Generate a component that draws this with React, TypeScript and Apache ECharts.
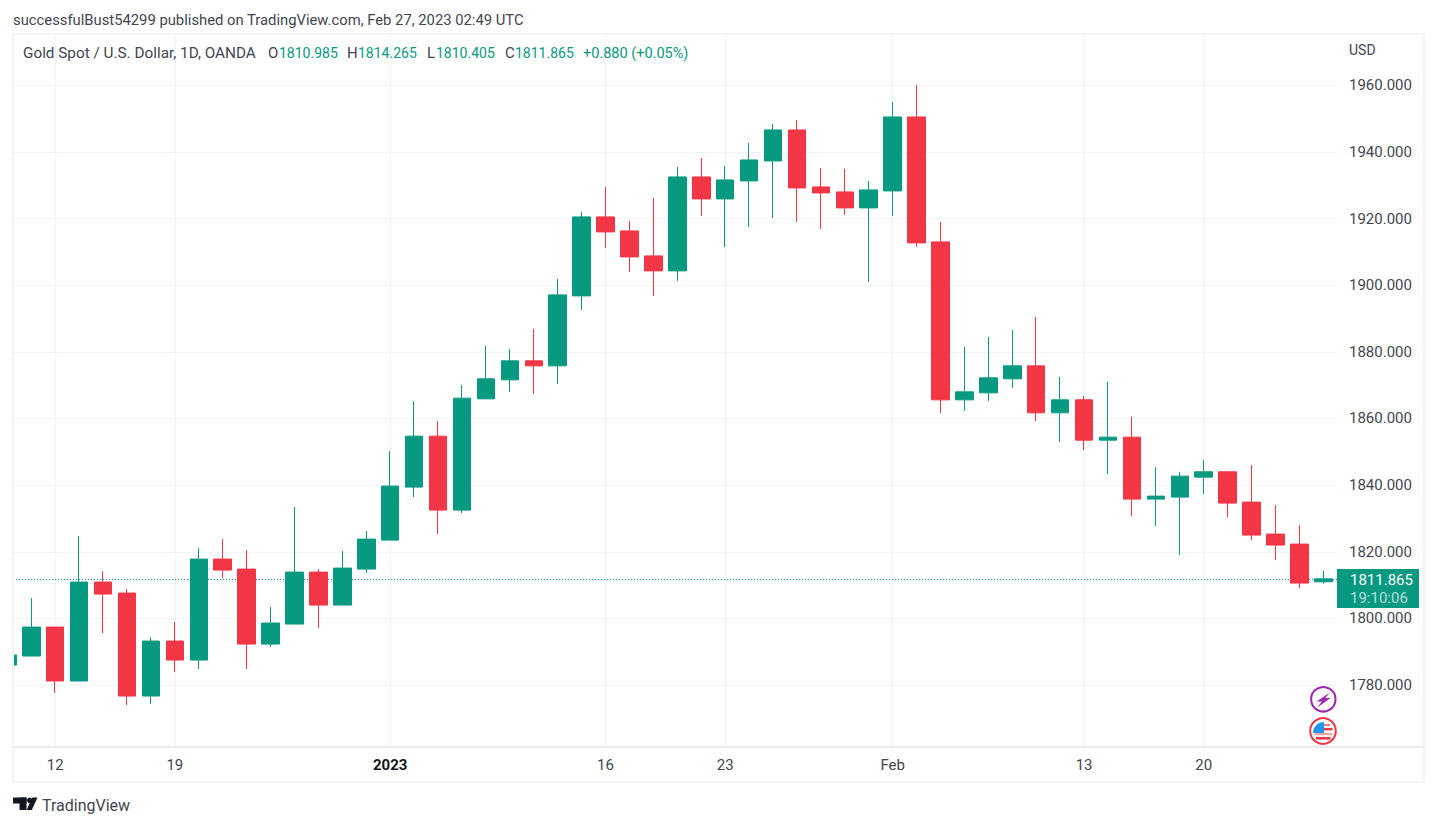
import React, { useEffect, useRef } from "react";
import * as echarts from "echarts";

const FONT = "Roboto, 'Open Sans', sans-serif";
const UP = "#089981";
const DOWN = "#F23645";

// [open, close, low, high] per daily session
const opens = [1786, 1788.7, 1797.4, 1781.2, 1810.9, 1807.6, 1776.7, 1793.2, 1787.5, 1817.8, 1814.8, 1792.3, 1798.3, 1813.9, 1804, 1814.8, 1823.5, 1839.4, 1854.7, 1832.5, 1865.9, 1871.6, 1877.3, 1875.8, 1896.8, 1920.5, 1916.3, 1908.8, 1904.3, 1932.5, 1925.9, 1931.3, 1937.3, 1946.6, 1929.5, 1928, 1923.2, 1928.3, 1950.5, 1913, 1865.6, 1867.7, 1871.9, 1875.8, 1861.7, 1865.6, 1853.5, 1854.4, 1835.8, 1836.4, 1842.4, 1844, 1834.9, 1825.3, 1822.3, 1810.985];
const closes = [1789, 1797.4, 1781.2, 1810.9, 1807.3, 1776.7, 1793.2, 1787.5, 1817.8, 1814.5, 1792.3, 1798.6, 1813.9, 1804, 1815.1, 1823.8, 1839.7, 1854.7, 1832.5, 1866.1, 1871.9, 1877.3, 1875.8, 1897.1, 1920.5, 1916, 1908.5, 1904.3, 1932.5, 1925.9, 1931.6, 1937.6, 1946.6, 1929.2, 1927.7, 1923.2, 1928.6, 1950.5, 1912.7, 1865.6, 1868, 1872.2, 1875.8, 1861.7, 1865.6, 1853.5, 1854.4, 1835.8, 1836.7, 1842.7, 1844, 1834.6, 1825, 1822, 1810.6, 1811.865];
const lows = [1786, 1788.7, 1777.6, 1781.2, 1795.6, 1774, 1774.3, 1783.9, 1784.8, 1812.1, 1784.8, 1791.4, 1798.3, 1797.1, 1804, 1813.6, 1823.5, 1836.4, 1825.3, 1831.6, 1865.9, 1868, 1867.4, 1870.4, 1892.6, 1911.2, 1904, 1896.8, 1901.3, 1920.8, 1911.5, 1917.5, 1920.2, 1919, 1916.9, 1921.1, 1901, 1920.8, 1911.5, 1861.6, 1862.3, 1865.3, 1869.2, 1859.2, 1853, 1850.5, 1843.3, 1830.7, 1827.7, 1819, 1837.3, 1830.4, 1823.5, 1817.5, 1809.1, 1810.405];
const highs = [1789, 1806.1, 1797.4, 1824.7, 1814.2, 1808.8, 1794.4, 1798.9, 1821.1, 1823.8, 1820.5, 1803.4, 1833.4, 1814.8, 1820.2, 1826.2, 1850.2, 1865.2, 1859.2, 1870.1, 1881.8, 1880.9, 1886.9, 1901.9, 1922, 1929.5, 1919.3, 1926.2, 1935.5, 1938.2, 1935.8, 1942.7, 1948.4, 1949.6, 1935.2, 1934.9, 1931.3, 1955, 1960.1, 1919, 1881.5, 1884.5, 1886.6, 1890.5, 1872.5, 1866.8, 1871, 1860.5, 1845.4, 1844, 1847.5, 1844, 1846, 1834, 1828, 1814.265];

const timeTickIndex = [2, 7, 16, 25, 30, 37, 45, 50];
const timeTickLabels = ["12", "19", "2023", "16", "23", "Feb", "13", "20"];
const priceTicks = [1780, 1800, 1820, 1840, 1860, 1880, 1900, 1920, 1940, 1960];
const lastPrice = 1811.865;

const candles = opens.map((o, i) => [i, o, closes[i], lows[i], highs[i]]);

const txt = (text: string, x: number, y: number, fill: string, size = 14, extra: any = {}) => ({
  type: "text",
  z: 10,
  silent: true,
  style: { text, x, y, fill, font: `${extra.weight || "normal"} ${size}px ${FONT}`, verticalAlign: "middle", align: extra.align || "left" },
});

export default function App() {
  const ref = useRef<HTMLDivElement>(null);
  useEffect(() => {
    const chart = echarts.init(ref.current!, undefined, { renderer: "svg" });
    chart.setOption({
      animation: false,
      backgroundColor: "#ffffff",
      grid: { left: 13, top: 35, right: 100, bottom: 79, containLabel: false },
      xAxis: {
        type: "value",
        min: 0.235,
        max: 55.57,
        axisLine: { show: false },
        axisTick: { show: false, customValues: timeTickIndex },
        splitLine: { show: true, lineStyle: { color: "#F0F3FA", width: 1 } },
        axisLabel: {
          customValues: timeTickIndex,
          margin: 10,
          fontSize: 15,
          fontFamily: FONT,
          color: "#434651",
          showMinLabel: true,
          showMaxLabel: true,
          formatter: (v: number) => {
            const s = timeTickLabels[timeTickIndex.indexOf(v)];
            return s === "2023" ? `{b|${s}}` : s;
          },
          rich: { b: { fontWeight: "bold", fontSize: 15, fontFamily: FONT, color: "#131722" } },
        },
      },
      yAxis: {
        type: "value",
        position: "right",
        min: 1761.4,
        max: 1975.1,
        axisLine: { show: false },
        axisTick: { show: false, customValues: priceTicks },
        splitLine: { show: true, lineStyle: { color: "#F0F3FA", width: 1 } },
        axisLabel: {
          customValues: priceTicks,
          margin: 12,
          fontSize: 15,
          fontFamily: FONT,
          color: "#434651",
          formatter: (v: number) => v.toFixed(3),
        },
      },
      series: [
        {
          type: "candlestick",
          data: candles,
          encode: { x: 0, y: [1, 2, 3, 4] },
          barWidth: 18,
          z: 3,
          clip: true,
          itemStyle: { color: UP, color0: DOWN, borderColor: UP, borderColor0: DOWN, borderWidth: 1 },
          markLine: {
            silent: true,
            z: 1,
            symbol: "none",
            label: { show: false },
            lineStyle: { color: UP, type: [1, 2], width: 1 },
            data: [{ yAxis: lastPrice }],
          },
        },
      ],
      graphic: [
        { type: "rect", z: 8, silent: true, shape: { x: 0, y: 34, width: 13, height: 748 }, style: { fill: "#ffffff" } },
        { type: "rect", z: 9, silent: true, shape: { x: 13, y: 34, width: 1411, height: 748 }, style: { fill: "none", stroke: "#F0F3FA", lineWidth: 2 } },
        { type: "line", z: 9, silent: true, shape: { x1: 14, y1: 747, x2: 1423, y2: 747 }, style: { stroke: "#E0E3EB", lineWidth: 1.5 } },
        txt("successfulBust54299 published on TradingView.com, Feb 27, 2023 02:49 UTC", 13, 19.5, "#434651", 14.8),
        txt("Gold Spot / U.S. Dollar, 1D, OANDA", 23, 53, "#434651", 15.3),
        txt("O", 268, 53, "#434651", 15),
        txt("1810.985", 279, 53, UP),
        txt("H", 347, 53, "#434651", 15),
        txt("1814.265", 358, 53, UP),
        txt("L", 427, 53, "#434651", 15),
        txt("1810.405", 436, 53, UP),
        txt("C", 505, 53, "#434651", 15),
        txt("1811.865", 515, 53, UP),
        txt("+0.880 (+0.05%)", 583, 53, UP, 14.5),
        txt("USD", 1349, 50, "#434651"),
        { type: "rect", z: 9, silent: true, shape: { x: 1337, y: 569, width: 82, height: 39 }, style: { fill: UP } },
        txt("1811.865", 1350, 579.5, "#ffffff", 15),
        txt("19:10:06", 1350, 598, "rgba(255,255,255,0.7)", 15),
        { type: "circle", z: 9, silent: true, shape: { cx: 1323.3, cy: 699.3, r: 12.2 }, style: { fill: "#ffffff", stroke: "#9C27B0", lineWidth: 2 } },
        { type: "polygon", z: 10, silent: true, shape: { points: [[1330, 692.5], [1316.5, 701.5], [1321.8, 701.5], [1317.5, 707.5], [1330.5, 698], [1325.2, 698]] }, style: { fill: "#9C27B0" } },
        { type: "circle", z: 9, silent: true, shape: { cx: 1323, cy: 731, r: 12.8 }, style: { fill: "#ffffff", stroke: "#F23645", lineWidth: 2 } },
        { type: "rect", z: 10, silent: true, shape: { x: 1323, y: 724, width: 7, height: 2 }, style: { fill: "#F77C80" } },
        { type: "rect", z: 10, silent: true, shape: { x: 1323, y: 728, width: 9.5, height: 2.4 }, style: { fill: "#F23645" } },
        { type: "rect", z: 10, silent: true, shape: { x: 1314.5, y: 733, width: 18, height: 2.2 }, style: { fill: "#F7A0A5" } },
        { type: "rect", z: 10, silent: true, shape: { x: 1316, y: 737, width: 14.5, height: 2.6 }, style: { fill: "#F23645" } },
        { type: "sector", z: 11, silent: true, shape: { cx: 1324, cy: 733, r0: 0, r: 11, startAngle: Math.PI, endAngle: Math.PI * 1.5 }, style: { fill: "#2196F3" } },
        { type: "rect", z: 10, silent: true, shape: { x: 13, y: 797.5, width: 13.5, height: 6 }, style: { fill: "#131722" } },
        { type: "rect", z: 10, silent: true, shape: { x: 19.5, y: 797.5, width: 7, height: 12.5 }, style: { fill: "#131722" } },
        { type: "circle", z: 10, silent: true, shape: { cx: 29.6, cy: 800.3, r: 2.7 }, style: { fill: "#131722" } },
        { type: "polygon", z: 10, silent: true, shape: { points: [[32.3, 797.5], [37.5, 797.5], [31.8, 810], [26.6, 810]] }, style: { fill: "#131722" } },
        txt("TradingView", 42, 805, "#434651", 16),
      ],
    });
    return () => chart.dispose();
  }, []);
  return <div ref={ref} style={{ position: "fixed", left: 0, top: 0, width: 1437, height: 826 }} />;
}
